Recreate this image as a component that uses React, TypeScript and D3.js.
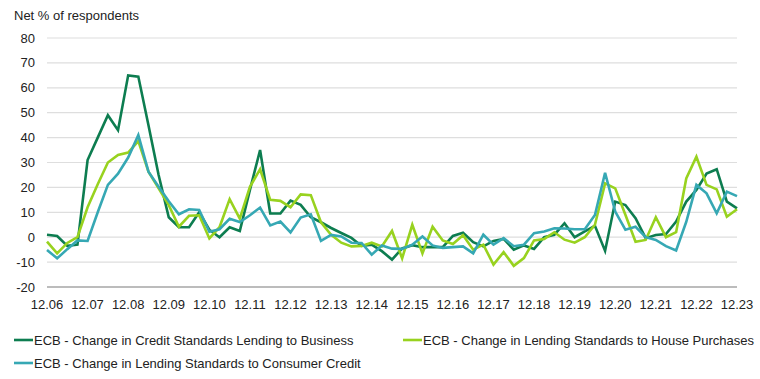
import React from "react";
import * as d3 from "d3";

const tickLabels = ["12.06","12.07","12.08","12.09","12.10","12.11","12.12","12.13","12.14","12.15","12.16","12.17","12.18","12.19","12.20","12.21","12.22","12.23"];
const yTicks = [80, 70, 60, 50, 40, 30, 20, 10, 0, -10, -20];

const business = [1,0.5,-3.5,-3,31,40,49,43,65,64.5,45,25,8,4,4,10,3,0,4,2.5,19,35,9.5,9.5,14.7,13,8,6,3.7,1.7,-0.3,-3.5,-3,-5.6,-9,-4.5,-3.2,-4,-4,-4,0.5,1.8,-2,-3.7,-1.5,-0.7,-5,-3.3,-4.7,0,1,5.6,0,2.3,4.6,-5.5,14.3,12.9,7.6,-0.4,0.9,1.3,6.3,14.3,19,25.6,27.3,14.3,11.6];
const house = [-1.8,-6.5,-2.3,0,12,21.3,30,33,34,38.6,26.3,19.6,12.9,4.2,8.6,8.8,-0.5,4,15.3,7.5,20.2,27.3,15,14.6,12,17.2,16.9,6,1,-2.2,-3.7,-3.5,-2.2,-3.7,2.5,-8.5,5,-6.5,4.2,-1.3,-2.7,0.8,-5,-3,-11,-6,-11.5,-8.4,-1.3,-0.7,2,-1,-2.2,0,5,21.6,19.6,9,-1.8,-1.1,8,0,2,23.6,32.3,21,19.2,8.2,11.2];
const consumer = [-5.1,-8.5,-4.8,-1.3,-1.5,10,21,25.5,32,41,26.3,20.3,14.4,9.2,11.2,10.9,2.2,3.2,7.4,6.1,8.8,11.9,4.7,6.3,1.9,7.9,9.2,-1.5,0.9,0.3,-2.2,-2.3,-7,-3.3,-4.6,-4.7,-3,0.3,-3.3,-4.3,-4,-3.7,-6.5,1,-3,-0.4,-3.6,-3,1.6,2.3,3.6,3.5,3.2,3.2,8.9,25.9,10.3,3,4.2,0,-1.1,-3.6,-5.3,6.2,21,17.6,9.6,18.3,16.5];

const seriesNames = [
  "ECB - Change in Credit Standards Lending to Business",
  "ECB - Change in Lending Standards to House Purchases",
  "ECB - Change in Lending Standards to Consumer Credit",
];
const colors = ["#0d7d50", "#98d21f", "#36a8b4"];

export default function App() {
  const W = 760, H = 379;
  const n = business.length;
  const x = d3.scaleLinear().domain([0, n - 1]).range([47, 737]);
  const y = d3.scaleLinear().domain([-20, 80]).range([287, 38]);
  const line = d3.line<number>().x((_, i) => x(i)).y((d) => y(d));
  const font = "'Liberation Sans', Arial, sans-serif";
  const series = [business, house, consumer];
  const legendPos = [
    { x: 14, y: 340 },
    { x: 403, y: 340 },
    { x: 14, y: 363 },
  ];
  return (
    <svg width={W} height={H} style={{ position: "absolute", left: 0, top: 0, background: "#fff" }} fontFamily={font}>
      <text x={14} y={20} fontSize={13} fill="#222">Net % of respondents</text>
      {yTicks.map((t) => (
        <g key={t}>
          <line x1={47} x2={737} y1={y(t)} y2={y(t)} stroke={t === -20 ? "#a6a6a6" : "#dedede"} strokeWidth={t === -20 ? 1.5 : 1.2} />
          <text x={35} y={y(t)} dy="0.35em" textAnchor="end" fontSize={13} fill="#222">{t}</text>
        </g>
      ))}
      {tickLabels.map((l, k) => (
        <text key={l} x={x(k * 4)} y={309} textAnchor="middle" fontSize={13} fill="#222">{l}</text>
      ))}
      {series.map((s, k) => (
        <path key={k} d={line(s) || ""} fill="none" stroke={colors[k]} strokeWidth={2.6} strokeLinejoin="miter" />
      ))}
      {seriesNames.map((name, k) => (
        <g key={name}>
          <line x1={legendPos[k].x} x2={legendPos[k].x + 19} y1={legendPos[k].y} y2={legendPos[k].y} stroke={colors[k]} strokeWidth={2.6} />
          <text x={legendPos[k].x + 20} y={legendPos[k].y} dy="0.35em" fontSize={13} fill="#222">{name}</text>
        </g>
      ))}
    </svg>
  );
}
